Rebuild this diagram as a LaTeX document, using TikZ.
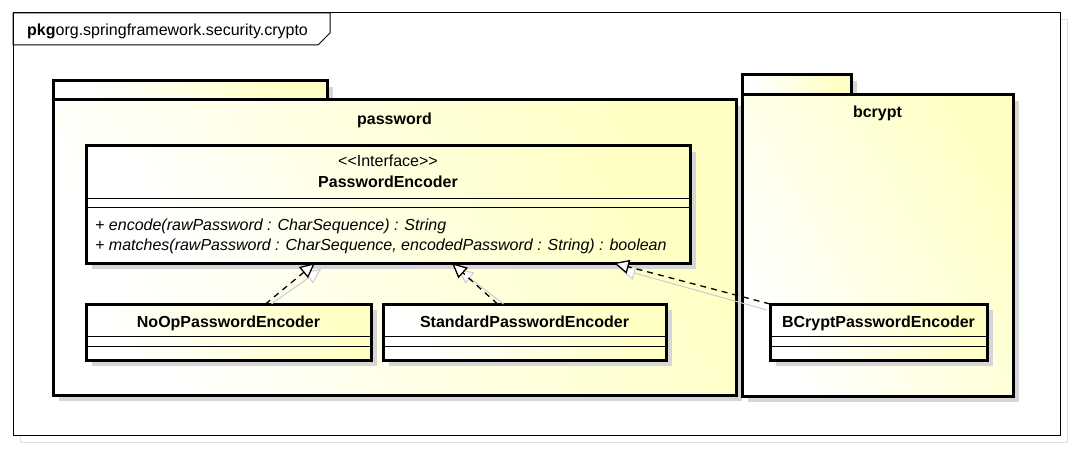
\documentclass[tikz,border=0pt]{standalone}
\usepackage{fontspec}
\setmainfont{Liberation Sans}
\usetikzlibrary{positioning}
\usetikzlibrary{arrows.meta}
\usetikzlibrary{shadows}
\definecolor{umlyellow}{RGB}{255,255,196}
\definecolor{shadowgray}{RGB}{214,214,214}
\newcommand{\stereotype}[1]{<\kern0pt<#1>\kern0pt>}
\tikzset{every node/.style={font=\fontsize{16}{19}\selectfont},
         txt/.style={inner sep=0pt,anchor=base},
         boldtxt/.style={txt,font=\fontsize{16}{19}\selectfont\bfseries},
         optxt/.style={inner sep=0pt,anchor=base west,font=\fontsize{16}{19}\selectfont\itshape},
         umlfill/.style={left color=white,right color=umlyellow,shading angle=120},
         boxshadow/.style={general shadow={fill=shadowgray,shadow xshift=6pt,shadow yshift=-6pt}},
         classbox/.style={draw,line width=3pt,anchor=north west,inner sep=0pt,outer sep=0pt,umlfill,boxshadow},
         pkgbox/.style={classbox},
         framebox/.style={draw,line width=1pt,anchor=north west,inner sep=0pt,outer sep=0pt,fill=white,
                          general shadow={draw=black!12,fill=white,shadow xshift=7pt,shadow yshift=-7pt}},
         sepline/.style={line width=0.8pt},
         realize/.style={line width=1.3pt,dash pattern=on 6pt off 5pt,
                         -{Triangle[fill=white,length=15pt,width=14pt]}},
         ghost/.style={line width=1pt,draw=black!20,
                       -{Triangle[fill=white,length=15pt,width=14pt]}},
         }

\begin{document}
\begin{tikzpicture}[x=1pt,y=-1pt]
\useasboundingbox (0,0) rectangle (1073,449);

% outer frame with name tab
\node[framebox,minimum width=1047pt,minimum height=422pt] (frame) at (13,13) {};
\draw[line width=1pt] (frame.north west) |- ++(305,32) -- ++(12,-12) |- (frame.north west);
\node[txt,anchor=base west] (framename) at ([xshift=14pt,yshift=-23pt]frame.north west) {\textbf{pkg}org.springframework.security.crypto};

% packages
\node[pkgbox,minimum width=274pt,minimum height=19pt] (pwdtab) at (53,81) {};
\node[pkgbox,minimum width=683pt,minimum height=295pt] (pwd) at (53,100) {};
\node[boldtxt] (pwdname) at ([yshift=-25pt]pwd.north) {password};

\node[pkgbox,minimum width=109pt,minimum height=20pt] (bcrtab) at (742,75) {};
\node[pkgbox,minimum width=271pt,minimum height=301pt] (bcr) at (742,95) {};
\node[boldtxt] (bcrname) at ([yshift=-23pt]bcr.north) {bcrypt};

% interface
\node[classbox,minimum width=604pt,minimum height=117pt] (iface) at (86,146) {};
\node[txt] (ifstereo) at ([yshift=-21pt]iface.north) {\stereotype{Interface}};
\node[boldtxt] (ifname) at ([yshift=-42pt]iface.north) {PasswordEncoder};
\draw[sepline] ([yshift=-52pt]iface.north west) -- ([yshift=-52pt]iface.north east);
\draw[sepline] ([yshift=-61pt]iface.north west) -- ([yshift=-61pt]iface.north east);
\node[optxt] (ifop1) at ([xshift=9pt,yshift=-84pt]iface.north west) {+ encode(rawPassword : CharSequence) : String};
\node[optxt] (ifop2) at ([xshift=9pt,yshift=-104pt]iface.north west) {+ matches(rawPassword : CharSequence, encodedPassword : String) : boolean};

% classes
\foreach \cls/\xpos/\boxwd/\clsname in {noop/86/285/NoOpPasswordEncoder,
                                        std/383/283/StandardPasswordEncoder,
                                        bcrcls/770/217/BCryptPasswordEncoder}{
  \node[classbox,minimum width=\boxwd pt,minimum height=56pt] (\cls) at (\xpos,304) {};
  \node[boldtxt] (\cls name) at ([yshift=-23pt]\cls.north) {\clsname};
  \draw[sepline] ([yshift=-32pt]\cls.north west) -- ([yshift=-32pt]\cls.north east);
  \draw[sepline] ([yshift=-42pt]\cls.north west) -- ([yshift=-42pt]\cls.north east);
}

% realizations
\draw[ghost] ([xshift=43pt]noop.north) -- ([xshift=-67pt,yshift=-6pt]iface.south);
\draw[ghost] ([xshift=-21pt]std.north) -- ([xshift=70pt,yshift=-6pt]iface.south);
\draw[ghost] ([xshift=-3pt,yshift=-6pt]bcrcls.north west) -- ([xshift=232pt,yshift=-6pt]iface.south);
\draw[realize] ([xshift=37pt]noop.north) -- ([xshift=-73pt]iface.south);
\draw[realize] ([xshift=-27pt]std.north) -- ([xshift=64pt]iface.south);
\draw[realize] (bcrcls.north west) -- ([xshift=226pt]iface.south);
\end{tikzpicture}
\end{document}
